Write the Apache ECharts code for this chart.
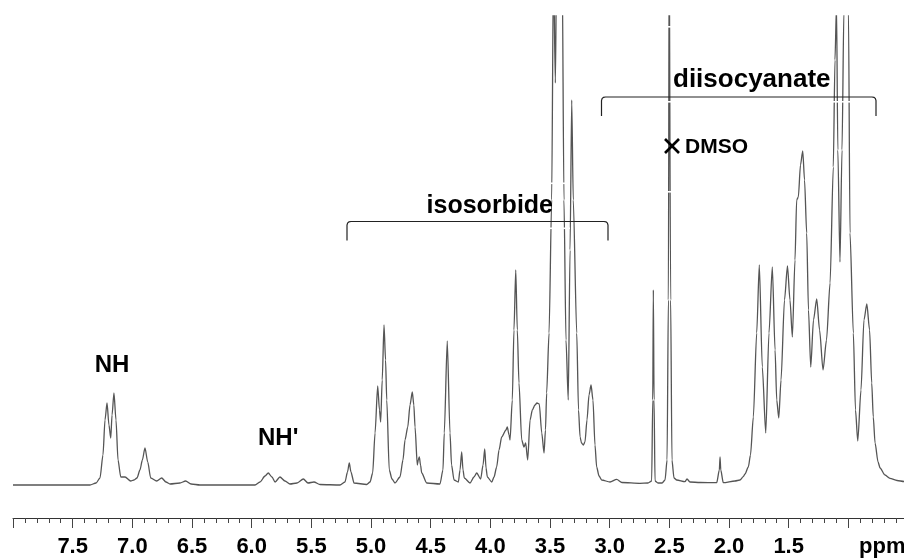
<!DOCTYPE html>
<html>
<head>
<meta charset="utf-8">
<script src="https://cdn.jsdelivr.net/npm/echarts/dist/echarts.min.js"></script>
<style>
html,body{margin:0;padding:0;background:#fff;}
#chart{width:904px;height:558px;}
</style>
</head>
<body>
<div id="chart"></div>
<script>
// Chemical shift (ppm) and intensity, split by region
const amidePpm = [8.000, 7.606, 7.355, 7.304, 7.271, 7.246, 7.229, 7.212, 7.196, 7.181, 7.170, 7.154, 7.137, 7.120, 7.097, 7.061, 7.014, 6.986, 6.961, 6.936, 6.916, 6.894, 6.871, 6.846, 6.796, 6.754, 6.718, 6.684, 6.601, 6.553, 6.508, 6.433, 5.972, 5.930, 5.888, 5.861, 5.830, 5.804, 5.763, 5.721, 5.679, 5.620, 5.567, 5.528, 5.478, 5.427, 5.260, 5.218, 5.197, 5.182, 5.168, 5.142, 5.036];
const amideInt = [0, 0, 0, 2, 7, 30, 65, 82, 60, 47, 70, 92, 65, 25, 8, 8, 4, 5, 7, 15, 25, 37, 23, 7, 4, 7, 3, 1, 2, 4, 1, 0, 0, 3, 9, 12, 8, 3, 8, 4, 1, 2, 6, 2, 3, 0.5, 0, 3, 13, 22, 13, 2, 0.5];

const isosorbidePpm = [5.008, 4.986, 4.966, 4.944, 4.929, 4.919, 4.906, 4.891, 4.878, 4.868, 4.847, 4.824, 4.799, 4.757, 4.732, 4.715, 4.692, 4.673, 4.654, 4.641, 4.631, 4.612, 4.604, 4.595, 4.585, 4.575, 4.533, 4.422, 4.397, 4.386, 4.361, 4.338, 4.325, 4.304, 4.268, 4.254, 4.240, 4.229, 4.218, 4.170, 4.137, 4.114, 4.081, 4.061, 4.047, 4.036, 4.025, 3.988, 3.969, 3.947, 3.927, 3.905, 3.869, 3.858, 3.843, 3.835, 3.816, 3.802, 3.787, 3.774, 3.760, 3.737, 3.718, 3.704, 3.687, 3.667, 3.648, 3.626, 3.609, 3.590, 3.569, 3.550, 3.538, 3.528, 3.508, 3.486, 3.471, 3.455, 3.445, 3.420, 3.398, 3.383, 3.366, 3.347, 3.332, 3.318, 3.305, 3.276, 3.261, 3.248, 3.236, 3.221, 3.207, 3.190, 3.173, 3.156, 3.140, 3.123, 3.109, 3.089, 3.067, 2.997, 2.941, 2.897];
const isosorbideInt = [3, 12, 52, 99, 75, 63, 105, 160, 125, 85, 15, 6, 2, 8, 25, 45, 58, 80, 93, 80, 58, 20, 25, 28, 20, 12, 2, 1, 15, 52, 144, 52, 20, 5, 3, 15, 33, 15, 7, 2, 8, 12, 6, 20, 36, 17, 8, 3, 8, 18, 35, 48, 55, 58, 50, 45, 85, 155, 215, 155, 102, 45, 38, 42, 25, 65, 75, 80, 82, 81, 52, 32, 55, 92, 152, 285, 520, 402, 520, 560, 520, 285, 145, 85, 235, 385, 285, 152, 75, 48, 42, 40, 43, 65, 90, 100, 85, 40, 18, 9, 5, 3, 5.7, 2.5];

const aliphaticPpm = [2.746, 2.679, 2.648, 2.639, 2.634, 2.628, 2.620, 2.595, 2.561, 2.536, 2.519, 2.508, 2.501, 2.496, 2.489, 2.478, 2.461, 2.438, 2.369, 2.352, 2.327, 2.243, 2.103, 2.081, 2.075, 2.069, 2.048, 1.950, 1.908, 1.880, 1.866, 1.838, 1.820, 1.796, 1.768, 1.746, 1.721, 1.692, 1.665, 1.637, 1.614, 1.600, 1.583, 1.564, 1.535, 1.510, 1.489, 1.469, 1.447, 1.433, 1.419, 1.401, 1.382, 1.367, 1.349, 1.334, 1.315, 1.292, 1.265, 1.241, 1.212, 1.183, 1.153, 1.126, 1.112, 1.099, 1.088, 1.070, 1.053, 1.037, 1.019, 0.999, 0.986, 0.958, 0.940, 0.921, 0.894, 0.869, 0.845, 0.822, 0.804, 0.791, 0.776, 0.751, 0.734, 0.693, 0.651, 0.592, 0.533, 0.500];
const aliphaticInt = [1.7, 2, 4, 85, 195, 85, 4, 2, 2, 5, 25, 185, 560, 560, 185, 25, 7, 5, 3.3, 6, 3, 2.5, 2.3, 15, 28, 15, 2.3, 4, 5, 8.3, 11, 18, 30, 68, 152, 220, 118, 52, 152, 218, 135, 85, 67, 105, 185, 219, 185, 148, 225, 285, 288, 320, 334, 305, 252, 175, 118, 165, 186, 155, 115, 145, 202, 318, 425, 480, 335, 223, 335, 475, 520, 475, 252, 152, 75, 44, 95, 165, 181, 155, 102, 68, 42, 23, 17, 10, 6.7, 4.5, 3.5, 3];

const axisMin = 0.5, axisMax = 8.0;
const labeledTicks = [7.5, 7.0, 6.5, 6.0, 5.5, 5.0, 4.5, 4.0, 3.5, 3.0, 2.5, 2.0, 1.5];
const annotationTexts = ['NH', "NH'", 'isosorbide', 'diisocyanate', 'DMSO', 'ppm'];

function zip(a, b) {
  const n = Math.min(a.length, b.length), out = [];
  for (let i = 0; i < n; i++) out.push([a[i], b[i]]);
  return out;
}
const spectrum = [].concat(
  zip(amidePpm, amideInt),
  zip(isosorbidePpm, isosorbideInt),
  zip(aliphaticPpm, aliphaticInt)
);

const FONT = '"Liberation Sans", Arial, Helvetica, sans-serif';
const chart = echarts.init(document.getElementById('chart'), null, {renderer: 'canvas'});

function txt(t, x, y, size, align) {
  return {type: 'text', x: x, y: y, z: 100,
    style: {text: t, font: 'bold ' + size + 'px ' + FONT, fill: '#000',
      textAlign: align, textVerticalAlign: 'middle'}};
}
function whiteGap(x, y, w) {
  return {type: 'rect', z: 90, shape: {x: x, y: y, width: w, height: 1.6}, style: {fill: '#fff'}};
}

const option = {
  animation: false,
  backgroundColor: '#fff',
  grid: {left: 13, top: 16, bottom: 40, width: 895, containLabel: false, outerBoundsMode: 'none'},
  xAxis: {
    type: 'value', inverse: true, min: axisMin, max: axisMax, interval: 0.5,
    axisLine: {onZero: false, lineStyle: {color: '#333', width: 1}},
    axisTick: {show: true, length: 10, lineStyle: {color: '#444', width: 1}},
    minorTick: {show: true, splitNumber: 5, length: 5, lineStyle: {color: '#444', width: 1}},
    splitLine: {show: false},
    axisLabel: {
      margin: 18, color: '#000', fontSize: 22, fontWeight: 'bold', fontFamily: FONT,
      formatter: function (v) {
        for (const t of labeledTicks) if (Math.abs(t - v) < 1e-6) return t.toFixed(1);
        return '';
      }
    }
  },
  yAxis: {type: 'value', min: -33, max: 469, show: false},
  series: [{
    type: 'line', data: spectrum, showSymbol: false, smooth: 0.25, smoothMonotone: 'x', clip: true,
    lineStyle: {color: '#555', width: 1.3}
  }],
  graphic: {elements: [
    // white halo lines of the annotation boxes
    whiteGap(545, 182.5, 25), whiteGap(545, 227.5, 25),
    whiteGap(664, 26, 12), whiteGap(664, 101, 12), whiteGap(830, 101, 24),
    whiteGap(664, 116, 4), whiteGap(664, 191, 12),
    // brackets
    {type: 'polyline', z: 100, shape: {points: [[347,240.5],[347,225],[347.6,223],[349,221.9],[351,221.5],[604,221.5],[606,221.9],[607.4,223],[608,225],[608,240.5]]},
      style: {stroke: '#222', lineWidth: 1.2, fill: null}},
    {type: 'polyline', z: 100, shape: {points: [[601.5,116],[601.5,100.5],[602.1,98.5],[603.5,97.4],[605.5,97],[872,97],[874,97.4],[875.4,98.5],[876,100.5],[876,116]]},
      style: {stroke: '#222', lineWidth: 1.2, fill: null}},
    // DMSO cross
    {type: 'line', z: 100, shape: {x1: 665, y1: 139, x2: 679, y2: 153}, style: {stroke: '#000', lineWidth: 2.6}},
    {type: 'line', z: 100, shape: {x1: 679, y1: 139, x2: 665, y2: 153}, style: {stroke: '#000', lineWidth: 2.6}},
    txt(annotationTexts[0], 112, 365.6, 24, 'center'),
    txt(annotationTexts[1], 258, 438.6, 24, 'left'),
    txt(annotationTexts[2], 553, 206.3, 25, 'right'),
    txt(annotationTexts[3], 673, 79.9, 26, 'left'),
    txt(annotationTexts[4], 685, 147.6, 21, 'left'),
    txt(annotationTexts[5], 859, 547.3, 22, 'left')
  ]}
};
chart.setOption(option);
</script>
</body>
</html>
